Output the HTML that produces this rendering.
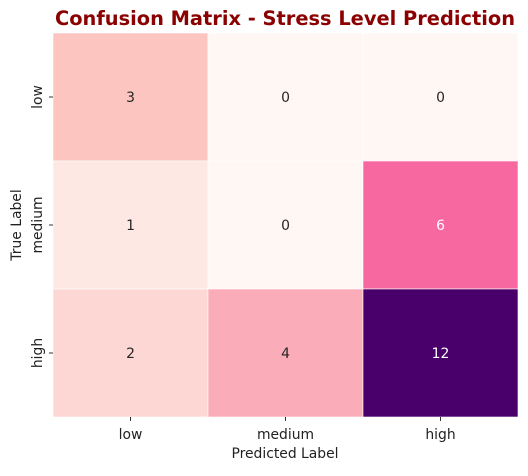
<!DOCTYPE html>
<html><head><meta charset="utf-8"><style>
body{margin:0;background:#fff;}
svg text{font-family:"DejaVu Sans","Liberation Sans",sans-serif;}
</style></head><body>
<svg id="chart" width="528" height="471">
<text x="285" y="25" text-anchor="middle" font-size="19.4" font-weight="bold" fill="#8b0000">Confusion Matrix - Stress Level Prediction</text>
<g id="cells"></g>
<g id="axes"></g>
<text x="285" y="458" text-anchor="middle" font-size="13.9" fill="#222">Predicted Label</text>
<text transform="translate(21,225) rotate(-90)" text-anchor="middle" font-size="13.9" fill="#222">True Label</text>
</svg>
<script>
const predLabels=["low","medium","high"];
const trueLabels=["low","medium","high"];
const row0=[3,0,0];
const row1=[1,0,6];
const row2=[2,4,12];
const matrix=[row0,row1,row2];
const stops=["#fff7f3","#fde0dd","#fcc5c0","#fa9fb5","#f768a1","#dd3497","#ae017e","#7a0177","#49006a"];
const x0=53,y0=33,cw=155,ch=128;
const vmax=Math.max(...matrix.flat());
function hex(h){return [1,3,5].map(i=>parseInt(h.substr(i,2),16));}
function color(v){let t=Math.max(0,Math.min(1,v/vmax))*(stops.length-1);let i=Math.min(Math.floor(t),stops.length-2);let f=t-i;let a=hex(stops[i]),b=hex(stops[i+1]);return "rgb("+a.map((c,k)=>Math.round(c+(b[k]-c)*f)).join(",")+")";}
function xs(j){return x0+j*cw;}
function ys(i){return y0+i*ch;}
const ns="http://www.w3.org/2000/svg";
const cells=document.getElementById("cells"),axes=document.getElementById("axes");
matrix.forEach((row,i)=>row.forEach((v,j)=>{
 const r=document.createElementNS(ns,"rect");
 r.setAttribute("x",xs(j));r.setAttribute("y",ys(i));r.setAttribute("width",cw);r.setAttribute("height",ch);
 r.setAttribute("fill",color(v));r.setAttribute("stroke","#fff");r.setAttribute("stroke-width","0.6");
 
 
 cells.appendChild(r);
 const t=document.createElementNS(ns,"text");
 t.setAttribute("x",xs(j)+cw/2);t.setAttribute("y",ys(i)+ch/2+5);t.setAttribute("text-anchor","middle");t.setAttribute("font-size","13.9");
 t.setAttribute("fill",v/vmax>0.45?"#fff":"#262626");t.textContent=v;
 
 
 cells.appendChild(t);
}));
predLabels.forEach((l,j)=>{
 const cx=xs(j)+cw/2;
 const tk=document.createElementNS(ns,"line");tk.setAttribute("x1",cx);tk.setAttribute("x2",cx);tk.setAttribute("y1",y0+3*ch);tk.setAttribute("y2",y0+3*ch+4);tk.setAttribute("stroke","#333");
 
 
 axes.appendChild(tk);
 const t=document.createElementNS(ns,"text");t.setAttribute("x",cx);t.setAttribute("y",439);t.setAttribute("text-anchor","middle");t.setAttribute("font-size","13.9");t.setAttribute("fill","#222");t.textContent=l;
 
 
 axes.appendChild(t);
});
trueLabels.forEach((l,i)=>{
 const cy=ys(i)+ch/2;
 const tk=document.createElementNS(ns,"line");tk.setAttribute("x1",x0-4);tk.setAttribute("x2",x0);tk.setAttribute("y1",cy);tk.setAttribute("y2",cy);tk.setAttribute("stroke","#333");
 
 
 axes.appendChild(tk);
 const t=document.createElementNS(ns,"text");t.setAttribute("transform","translate(42,"+cy+") rotate(-90)");t.setAttribute("text-anchor","middle");t.setAttribute("font-size","13.9");t.setAttribute("fill","#222");t.textContent=l;
 
 
 axes.appendChild(t);
});
</script>
</body></html>
